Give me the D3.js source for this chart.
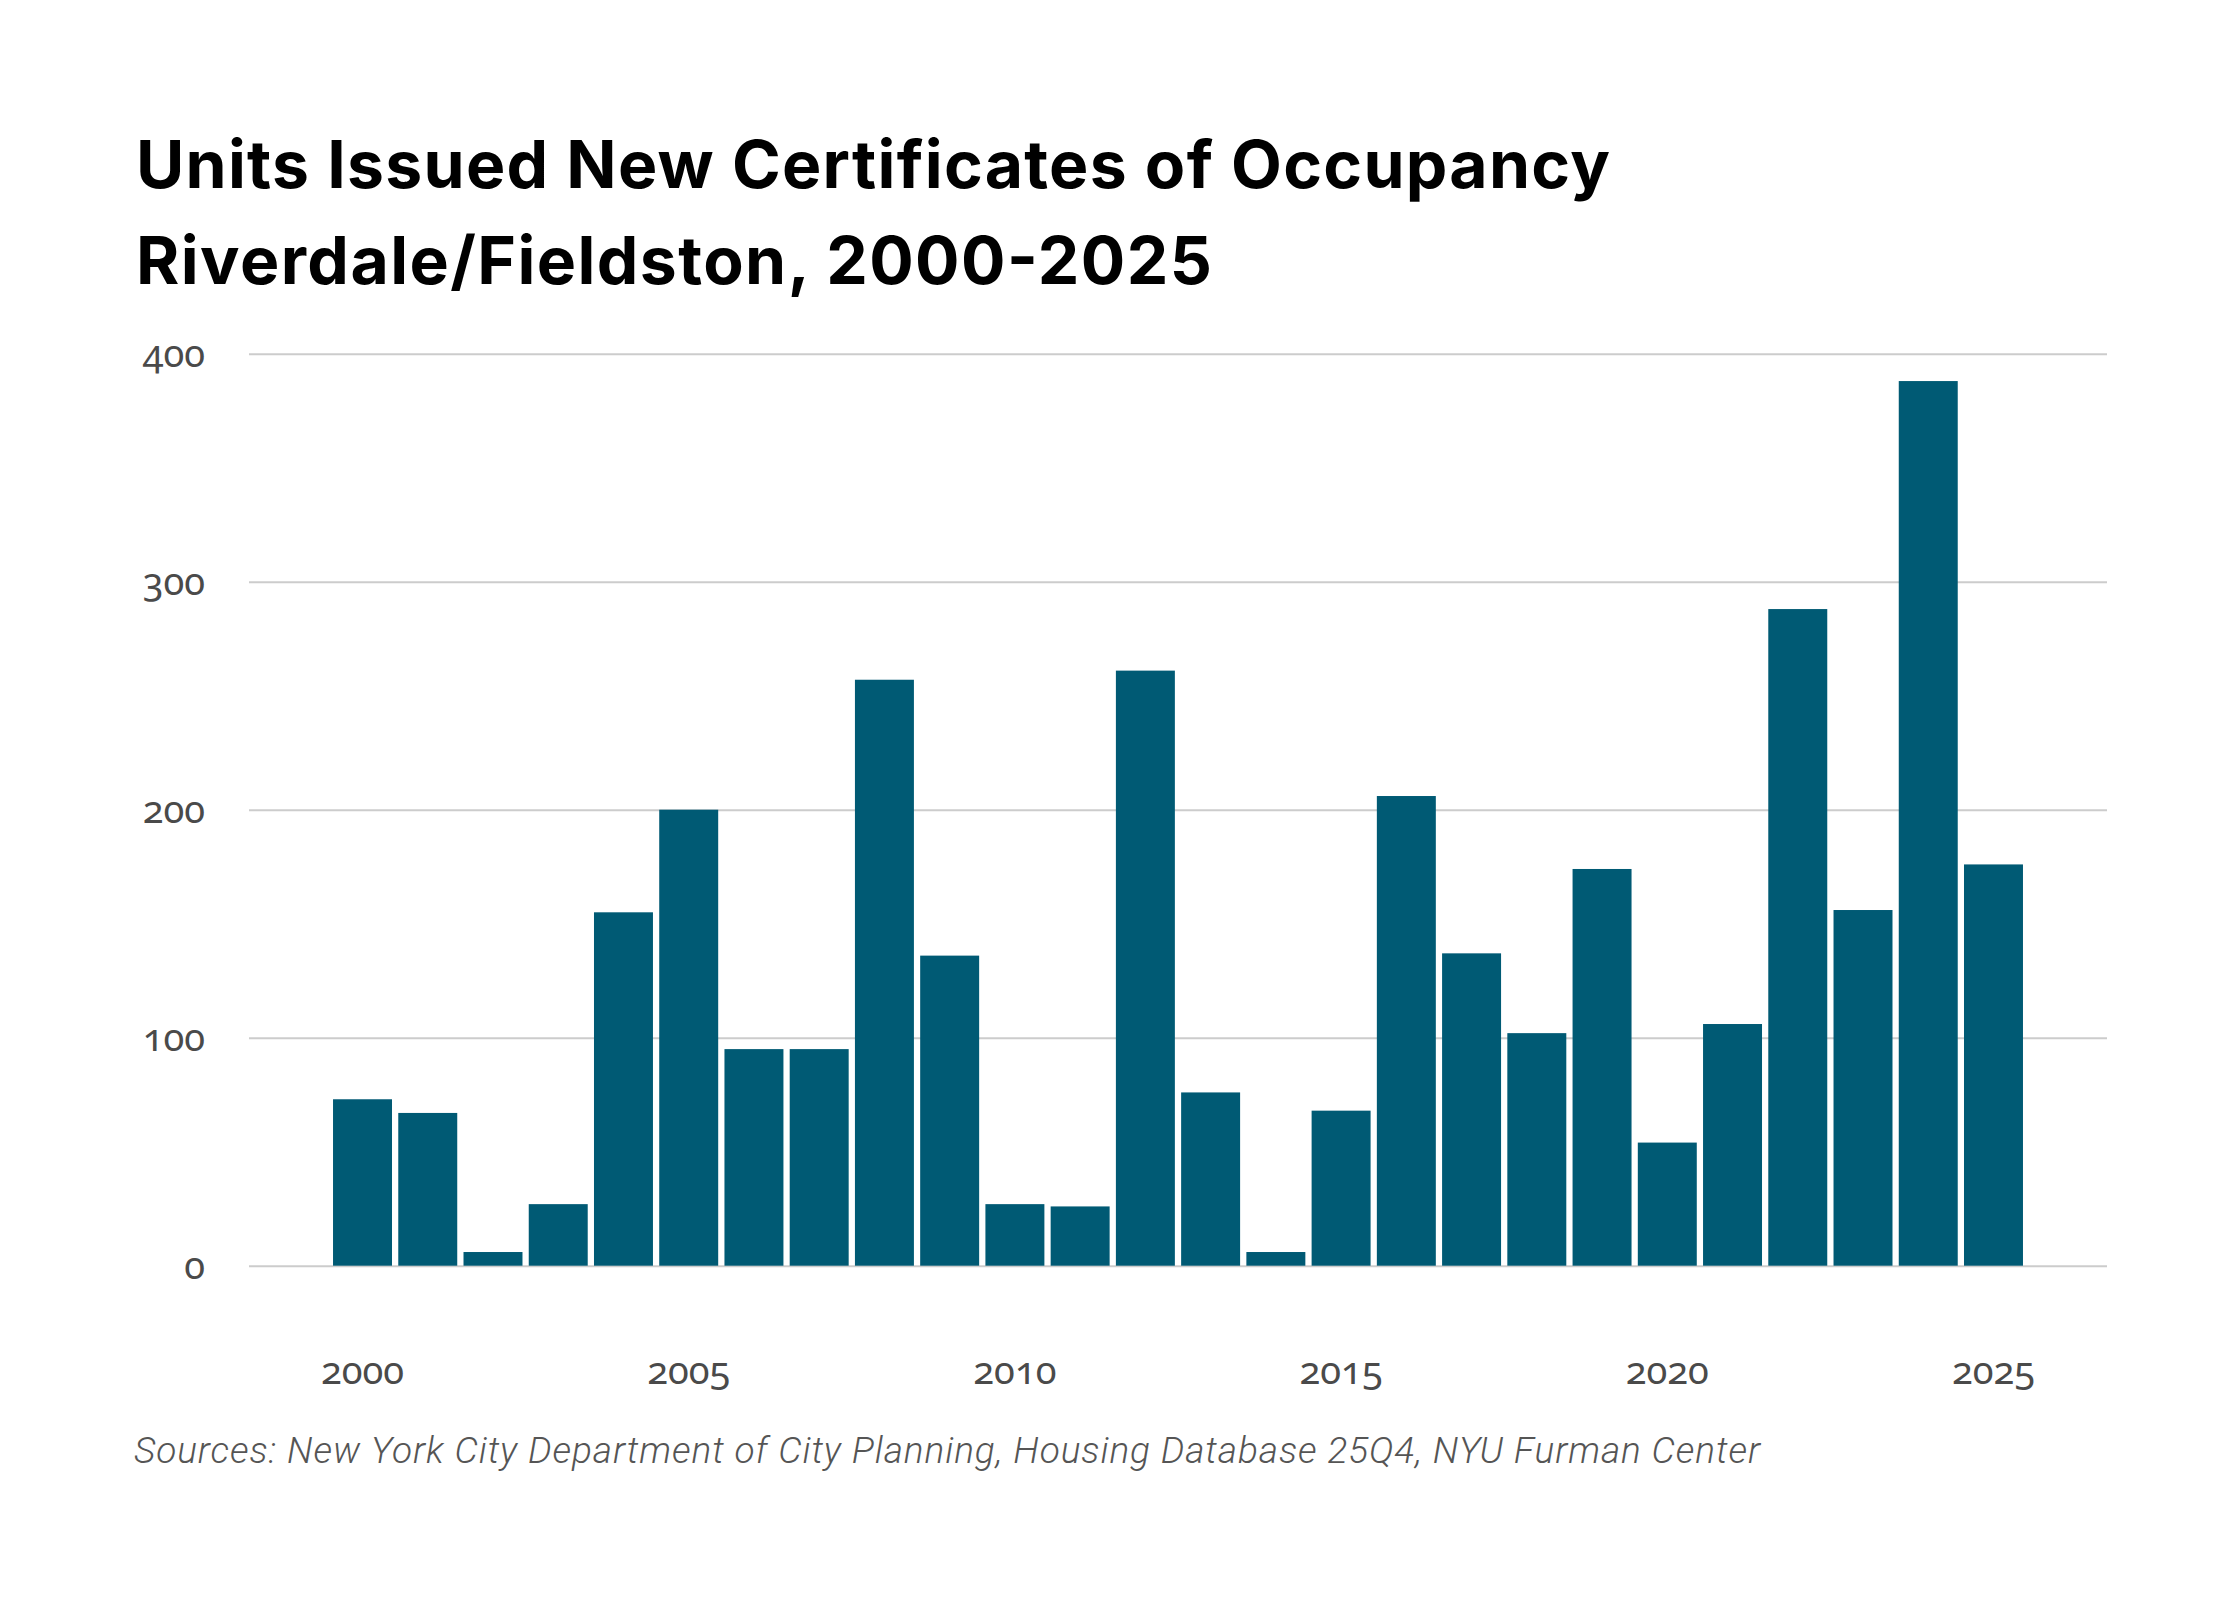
<!DOCTYPE html>
<html>
<head>
<meta charset="utf-8">
<script src="https://cdn.jsdelivr.net/npm/d3@7"></script>
<style>
  html, body { margin: 0; padding: 0; background: #fff; }
  svg { display: block; }
  .tick text { font-family: "Noto Sans", sans-serif; font-variant-numeric: oldstyle-nums; font-feature-settings: "onum" 1; }
</style>
</head>
<body>
<script>
// ---- data ----
const years = [2000,2001,2002,2003,2004,2005,2006,2007,2008,2009,2010,2011,2012,2013,2014,2015,2016,2017,2018,2019,2020,2021,2022,2023,2024,2025];
const units = [73,67,6,27,155,200,95,95,257,136,27,26,261,76,6,68,206,137,102,174,54,106,288,156,388,176];
const yTicks = [0,100,200,300,400];
const xTicks = [2000,2005,2010,2015,2020,2025];
const titleLines = ["Units Issued New Certificates of Occupancy", "Riverdale/Fieldston, 2000-2025"];
const sourceText = "Sources: New York City Department of City Planning, Housing Database 25Q4, NYU Furman Center";

// ---- layout ----
const W = 2240, H = 1600;
const plotLeft = 249, plotRight = 2107, plotTop = 353.7, plotBottom = 1265.7;

const svg = d3.select("body").append("svg").attr("width", W).attr("height", H);
svg.append("rect").attr("width", W).attr("height", H).attr("fill", "#fff");

const x = d3.scaleBand().domain(years).range([plotLeft, plotRight]).paddingInner(0.096).paddingOuter(1.288);
const y = d3.scaleLinear().domain([0, 400]).range([plotBottom, plotTop]);

// title
const titleW = [1474, 1076];
const titleY = [188, 284];
titleLines.forEach((t, i) => {
  svg.append("text")
    .attr("x", 136).attr("y", titleY[i])
    .attr("font-family", "Inter, 'Libre Franklin', sans-serif")
    .attr("font-weight", 700)
    .attr("font-size", 66)
    .attr("fill", "#000")
    .attr("textLength", titleW[i])
    .attr("lengthAdjust", "spacing")
    .text(t);
});

// y axis with gridlines
const yAxis = svg.append("g")
  .attr("transform", `translate(${plotLeft},0)`)
  .call(d3.axisLeft(y).tickValues(yTicks).tickSize(-(plotRight - plotLeft)).tickPadding(44).tickFormat(d3.format("d")));
yAxis.select(".domain").remove();
yAxis.selectAll(".tick line").attr("stroke", "#cccccc").attr("stroke-width", 2);
yAxis.selectAll(".tick text")
  .attr("dy", 13)
  .attr("font-size", 38)
  .attr("fill", "#4a4a4a");

// bars
svg.append("g").selectAll("rect").data(years).join("rect")
  .attr("x", d => x(d))
  .attr("width", x.bandwidth())
  .attr("y", (d, i) => y(units[i]))
  .attr("height", (d, i) => y(0) - y(units[i]))
  .attr("fill", "#005a74");

// x axis
const xAxis = svg.append("g")
  .attr("transform", `translate(0,${plotBottom})`)
  .call(d3.axisBottom(x).tickValues(xTicks).tickSize(0).tickFormat(d3.format("d")));
xAxis.select(".domain").remove();
xAxis.selectAll(".tick text")
  .attr("y", 118)
  .attr("dy", 0)
  .attr("font-size", 38)
  .attr("fill", "#4a4a4a");

// source
svg.append("text")
  .attr("x", 134).attr("y", 1463)
  .attr("font-family", "Roboto, sans-serif")
  .attr("font-style", "italic")
  .attr("font-weight", 300)
  .attr("font-size", 37)
  .attr("fill", "#555")
  .attr("textLength", 1626)
  .attr("lengthAdjust", "spacing")
  .text(sourceText);
</script>
</body>
</html>
